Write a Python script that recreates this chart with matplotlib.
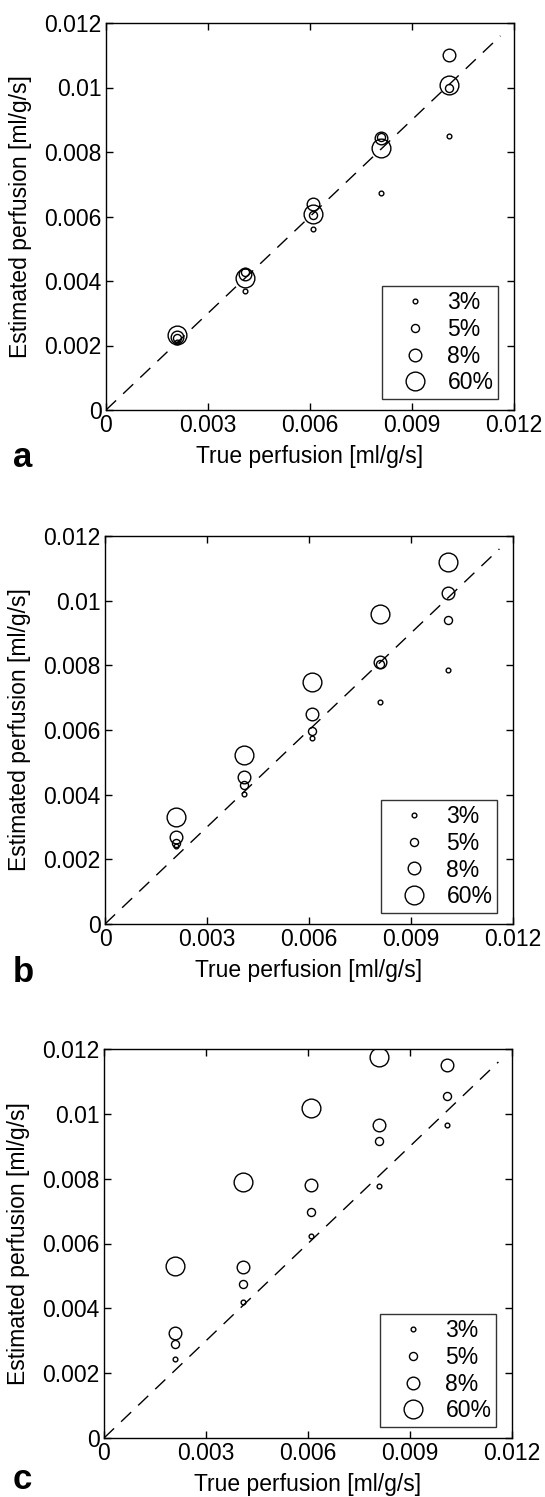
import numpy as np
import matplotlib.pyplot as plt

plt.rcParams['font.family'] = ['Liberation Sans', 'DejaVu Sans']

# True perfusion values (x) [ml/g/s]
true_perf = [0.00208, 0.00408, 0.00609, 0.0081, 0.01009]
noise_labels = ["3%", "5%", "8%", "60%"]
marker_sizes = [3.4, 5.8, 9.1, 13.5]

# Estimated perfusion, panel a
est_a_3 = [0.00212, 0.0037, 0.00561, 0.00674, 0.00849]
est_a_5 = [0.00222, 0.00429, 0.00604, 0.00845, 0.00997]
est_a_8 = [0.00227, 0.00423, 0.0064, 0.00842, 0.0110]
est_a_60 = [0.00232, 0.0041, 0.00609, 0.00811, 0.01007]

# panel b
est_b_3 = [0.00241, 0.00402, 0.00576, 0.00686, 0.00785]
est_b_5 = [0.00249, 0.0043, 0.00597, 0.00804, 0.0094]
est_b_8 = [0.0027, 0.00454, 0.00648, 0.00811, 0.01024]
est_b_60 = [0.00332, 0.00523, 0.00747, 0.00958, 0.01121]

# panel c (60% at the highest flow falls above the axis)
est_c_3 = [0.00243, 0.0042, 0.00623, 0.00776, 0.00967]
est_c_5 = [0.0029, 0.00474, 0.00696, 0.00915, 0.01054]
est_c_8 = [0.00323, 0.00529, 0.00779, 0.00967, 0.01151]
est_c_60 = [0.00532, 0.0079, 0.01017, 0.01175, np.nan]

panels = [
    ("a", [est_a_3, est_a_5, est_a_8, est_a_60]),
    ("b", [est_b_3, est_b_5, est_b_8, est_b_60]),
    ("c", [est_c_3, est_c_5, est_c_8, est_c_60]),
]

W, H = 545, 1497
fig = plt.figure(figsize=(W / 100, H / 100), dpi=100)

# axes boxes in pixels: left, top, right, bottom
boxes = [(106, 23, 514, 410), (105, 536, 513, 924), (104, 1049, 512, 1438)]
letter_base = [467, 982, 1489]
fs = 16.5

for (letter, series), (l, t, r, b), ly in zip(panels, boxes, letter_base):
    ax = fig.add_axes([l / W, 1 - b / H, (r - l) / W, (b - t) / H])
    ax.plot([0, 0.0116], [0, 0.0116], color='black', lw=1.0,
            linestyle=(0, (10, 7)))
    for est, lab, ms in zip(series, noise_labels, marker_sizes):
        ax.plot(true_perf, est, linestyle='none', marker='o', ms=ms,
                mfc='none', mec='black', mew=1.0, label=lab)
    ax.set_xlim(0, 0.012)
    ax.set_ylim(0, 0.012)
    ax.set_xticks([0, 0.003, 0.006, 0.009, 0.012])
    ax.set_xticklabels(["0", "0.003", "0.006", "0.009", "0.012"])
    ax.set_yticks([0, 0.002, 0.004, 0.006, 0.008, 0.01, 0.012])
    ax.set_yticklabels(["0", "0.002", "0.004", "0.006", "0.008", "0.01", "0.012"])
    ax.tick_params(direction='in', top=True, right=True, length=5,
                   width=1, labelsize=fs, pad=3)
    for sp in ax.spines.values():
        sp.set_linewidth(1.0)
    ax.set_xlabel("True perfusion [ml/g/s]", fontsize=fs, labelpad=6)
    ax.set_ylabel("Estimated perfusion [ml/g/s]", fontsize=fs, labelpad=9)
    leg = ax.legend(loc='lower right',
                    bbox_to_anchor=(1 - 16 / (r - l), 11 / (b - t)),
                    borderaxespad=0, fontsize=fs, frameon=True, fancybox=False,
                    edgecolor='black', handlelength=2.48, handletextpad=0.16,
                    labelspacing=0.17, borderpad=0.2, numpoints=1)
    leg.get_frame().set_linewidth(1.0)
    fig.text(13 / W, 1 - ly / H, letter, fontsize=25, fontweight='bold',
             va='baseline', ha='left')

fig.savefig("out.png", dpi=100)
